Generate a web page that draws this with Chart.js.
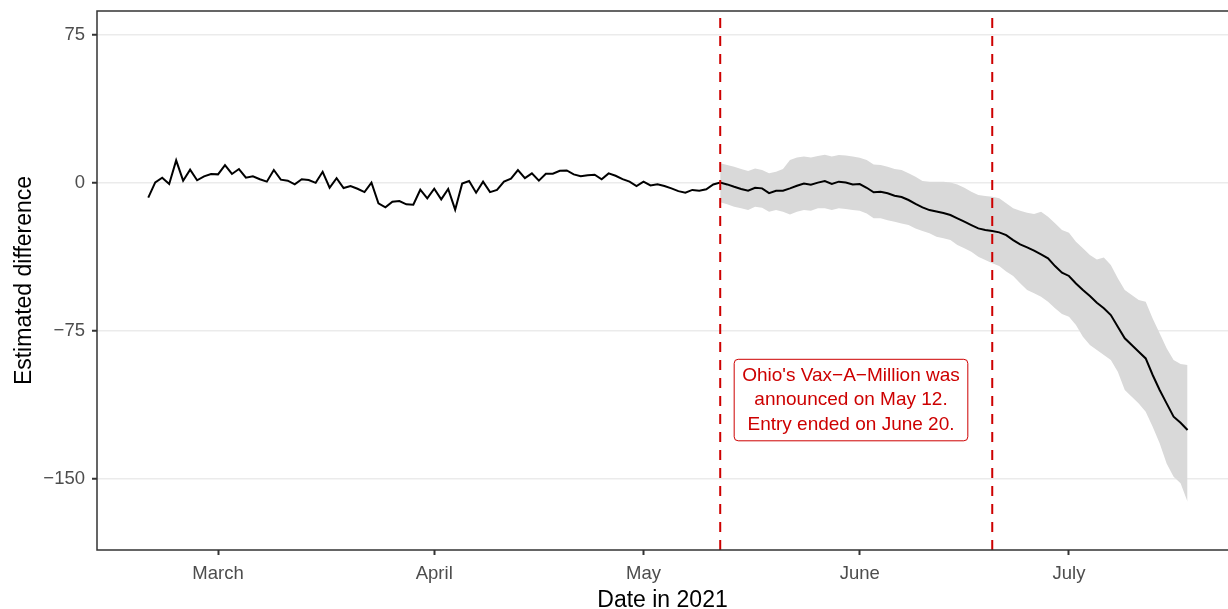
<!DOCTYPE html>
<html>
<head>
<meta charset="utf-8">
<script src="https://cdn.jsdelivr.net/npm/chart.js@4.4.1/dist/chart.umd.min.js"></script>
<style>
  html, body { margin: 0; padding: 0; background: #ffffff; }
  #wrap { width: 1228px; height: 609px; position: relative; }
</style>
</head>
<body>
<div id="wrap"><canvas id="myChart"></canvas></div>
<script>
// first day of the series, one value per day
const startDate = '2021-02-19';

// estimated difference, Feb 19 .. Jul 18
const estimate = [
  -7.4, 0.3, 2.7, -0.5, 11.5, 1.2, 6.8, 1.4, 3.4, 4.6,
  4.4, 9.1, 4.6, 7.1, 2.7, 3.4, 1.9, 0.7, 6.6, 1.7,
  1.2, -0.7, 1.9, 1.5, 0.1, 5.7, -2.4, 2.5, -2.5, -1.5,
  -2.9, -4.6, 0.2, -10.3, -12.3, -9.5, -9.1, -10.8, -11.0, -3.4,
  -7.8, -2.9, -8.3, -3.0, -13.5, -0.3, 1.0, -4.9, 0.7, -4.6,
  -3.5, 0.7, 2.2, 6.6, 2.5, 4.9, 1.2, 4.7, 4.7, 6.2,
  6.4, 4.4, 3.5, 4.0, 4.2, 1.9, 4.9, 3.7, 2.0, 0.7,
  -1.5, 0.7, -1.2, -0.6, -1.5, -2.7, -4.1, -4.9, -3.5, -3.9,
  -3.2, -0.7, 0.2, -0.7, -1.9, -3.0, -3.9, -2.4, -2.7, -5.1,
  -3.9, -3.9, -2.7, -1.4, -0.2, -0.9, 0.2, 1.0, -0.5, 0.7,
  0.3, -0.7, -0.5, -2.4, -4.7, -4.4, -5.2, -6.4, -7.1, -8.6,
  -10.6, -12.3, -13.7, -14.4, -15.2, -16.2, -17.9, -19.6, -21.3, -23.0,
  -23.8, -24.3, -25.0, -26.4, -28.9, -31.1, -32.6, -34.3, -36.2, -38.2,
  -42.1, -45.4, -47.1, -50.9, -54.2, -57.3, -60.7, -63.5, -66.9, -72.8,
  -78.7, -82.1, -85.5, -88.9, -97.3, -104.9, -111.7, -118.4, -121.5, -125.2
];

// confidence band, May 12 .. Jul 18
const bandStart = '2021-05-12';
const bandUpper = [
  10.0, 9.1, 8.2, 7.1, 6.1, 7.4, 6.6, 4.9, 5.7, 7.1,
  11.7, 12.9, 13.4, 12.9, 13.7, 14.3, 13.4, 14.2, 13.9, 13.4,
  12.8, 11.7, 9.4, 9.1, 8.3, 7.1, 6.6, 4.9, 3.2, 1.0,
  0.7, 0.7, 0.7, 0.3, -0.7, -2.4, -4.4, -6.1, -6.6, -7.0,
  -7.7, -10.3, -12.8, -14.0, -15.0, -15.7, -14.5, -17.1, -20.4, -23.8,
  -25.2, -29.7, -33.1, -36.5, -38.7, -37.7, -41.6, -48.3, -54.2, -56.8,
  -59.3, -60.2, -68.6, -76.2, -83.8, -89.7, -91.7, -92.2
];
const bandLower = [
  -9.8, -10.8, -12.0, -12.8, -13.7, -12.0, -12.5, -14.5, -13.7, -14.5,
  -15.9, -14.5, -13.7, -14.0, -12.8, -12.8, -13.7, -12.8, -13.2, -13.7,
  -14.0, -15.4, -17.9, -17.9, -18.8, -19.6, -20.5, -21.3, -23.0, -24.3,
  -25.5, -27.2, -28.0, -28.9, -31.4, -33.1, -34.8, -37.3, -39.0, -40.7,
  -42.0, -44.9, -47.1, -50.8, -54.2, -55.9, -57.6, -60.2, -63.5, -66.4,
  -67.8, -72.0, -77.9, -82.1, -84.6, -87.2, -89.7, -95.6, -104.9, -108.3,
  -111.7, -115.9, -123.5, -131.9, -142.1, -148.9, -152.2, -161.5
];

// reference dates (dashed lines)
const eventDates = ['2021-05-12', '2021-06-20'];

// axis ticks
const monthTickDates = ['2021-03-01', '2021-04-01', '2021-05-01', '2021-06-01', '2021-07-01'];
const monthTickLabels = ['March', 'April', 'May', 'June', 'July'];
const yTickValues = [-150, -75, 0, 75];

const noteLines = ["Ohio's Vax\u2212A\u2212Million was", 'announced on May 12.', 'Entry ended on June 20.'];

const X_MIN = -7.35, X_MAX = 154.8;
const Y_MIN = -186, Y_MAX = 87.2;
const NOTE_X = 100.75, NOTE_Y = -110;

const RED = '#CD0000';
const FONT = '"Liberation Sans", Arial, Helvetica, sans-serif';

function dayOf(d) {
    return (Date.parse(d + 'T00:00:00Z') - Date.parse(startDate + 'T00:00:00Z')) / 86400000;
}

const estPoints = estimate.map((v, i) => ({ x: i, y: v }));
const b0 = dayOf(bandStart);
const upperPoints = bandUpper.map((v, i) => ({ x: b0 + i, y: v }));
const lowerPoints = bandLower.map((v, i) => ({ x: b0 + i, y: v }));
const monthTicks = monthTickDates.map(dayOf);

const eventSets = eventDates.map(d => ({
    data: [{ x: dayOf(d), y: Y_MIN }, { x: dayOf(d), y: Y_MAX }],
    borderColor: RED,
    borderWidth: 2,
    borderDash: [10, 8],
    pointRadius: 0,
    fill: false,
    order: 0,
}));

// no extra room around the axes: the panel is placed by layout padding and fixed axis sizes
function noScalePadding(s) {
    s.paddingTop = 0;
    s.paddingBottom = 0;
    s.paddingLeft = 0;
    s.paddingRight = 0;
}

// top / left / bottom frame of the panel
const panelBorder = {
    id: 'panelBorder',
    afterDraw(chart) {
        const { ctx, chartArea: a } = chart;
        ctx.save();
        ctx.strokeStyle = '#333333';
        ctx.lineWidth = 1.5;
        ctx.beginPath();
        ctx.moveTo(a.right + 2, a.top);
        ctx.lineTo(a.left, a.top);
        ctx.lineTo(a.left, a.bottom);
        ctx.lineTo(a.right + 2, a.bottom);
        ctx.stroke();
        ctx.restore();
    }
};

const noteBox = {
    id: 'noteBox',
    afterDatasetsDraw(chart) {
        const { ctx, scales } = chart;
        const cx = scales.x.getPixelForValue(NOTE_X);
        const cy = scales.y.getPixelForValue(NOTE_Y);
        ctx.save();
        ctx.font = '19px ' + FONT;
        const lineH = 24.5;
        const w = Math.max(...noteLines.map(t => ctx.measureText(t).width)) + 16;
        const h = noteLines.length * lineH + 8;
        const x0 = cx - w / 2, y0 = cy - h / 2;
        ctx.beginPath();
        ctx.roundRect(x0, y0, w, h, 4);
        ctx.fillStyle = '#ffffff';
        ctx.fill();
        ctx.strokeStyle = RED;
        ctx.lineWidth = 1;
        ctx.stroke();
        ctx.fillStyle = RED;
        ctx.textAlign = 'center';
        ctx.textBaseline = 'middle';
        noteLines.forEach((t, i) => {
            ctx.fillText(t, cx, y0 + 4 + lineH * (i + 0.5));
        });
        ctx.restore();
    }
};

const ctx = document.getElementById('myChart').getContext('2d');
const myChart = new Chart(ctx, {
    type: 'line',
    data: {
        datasets: [
            {
                data: upperPoints,
                borderWidth: 0,
                borderColor: 'rgba(0,0,0,0)',
                backgroundColor: '#D9D9D9',
                pointRadius: 0,
                fill: '+1',
                order: 3,
            },
            {
                data: lowerPoints,
                borderWidth: 0,
                borderColor: 'rgba(0,0,0,0)',
                pointRadius: 0,
                fill: false,
                order: 3,
            },
            {
                data: estPoints,
                borderColor: '#000000',
                borderWidth: 2,
                pointRadius: 0,
                fill: false,
                tension: 0,
                order: 1,
            },
            ...eventSets,
        ],
    },
    options: {
        responsive: true,
        maintainAspectRatio: false,
        animation: false,
        layout: { padding: { top: 11, right: 0, bottom: 0, left: 0 } },
        plugins: {
            legend: { display: false },
            tooltip: { enabled: false },
        },
        scales: {
            x: {
                type: 'linear',
                position: 'bottom',
                min: X_MIN,
                max: X_MAX,
                afterBuildTicks: s => { s.ticks = monthTicks.map(v => ({ value: v })); },
                afterFit: s => { s.height = 59; noScalePadding(s); },
                grid: {
                    drawOnChartArea: false,
                    drawTicks: true,
                    tickLength: 5,
                    tickColor: '#333333',
                    tickWidth: 2,
                },
                border: { display: false },
                ticks: {
                    autoSkip: false,
                    maxRotation: 0,
                    padding: 8,
                    color: '#4D4D4D',
                    font: { family: FONT, size: 18.5 },
                    callback: v => monthTickLabels[monthTicks.indexOf(v)] || '',
                },
                title: {
                    display: true,
                    text: 'Date in 2021',
                    color: '#000000',
                    font: { family: FONT, size: 23, lineHeight: 0.74 },
                    padding: { top: 0, bottom: 0 },
                },
            },
            y: {
                min: Y_MIN,
                max: Y_MAX,
                afterBuildTicks: s => { s.ticks = yTickValues.map(v => ({ value: v })); },
                afterFit: s => { s.width = 97; noScalePadding(s); },
                grid: {
                    color: '#EBEBEB',
                    lineWidth: 1.5,
                    drawTicks: true,
                    tickLength: 5,
                    tickColor: '#333333',
                    tickWidth: 2,
                },
                border: { display: false },
                ticks: {
                    padding: 7,
                    color: '#4D4D4D',
                    font: { family: FONT, size: 18.5 },
                    callback: v => String(v).replace('-', '\u2212'),
                },
                title: {
                    display: true,
                    text: 'Estimated difference',
                    color: '#000000',
                    font: { family: FONT, size: 23, lineHeight: 1 },
                    padding: { top: 13.5, bottom: 0 },
                },
            },
        },
    },
    plugins: [panelBorder, noteBox],
});
</script>
</body>
</html>
